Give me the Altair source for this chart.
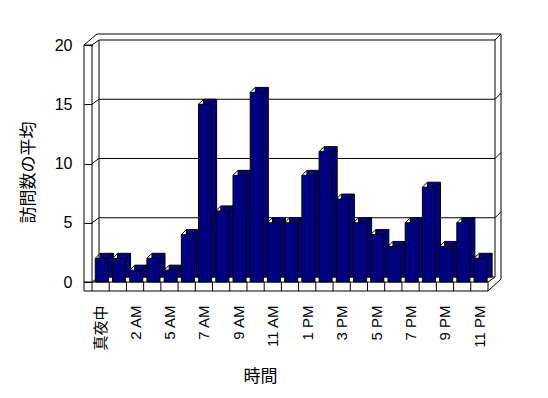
import json
import altair as alt
import pandas as pd

# ---- data ----
hours = ["真夜中", "1 AM", "2 AM", "4 AM", "5 AM", "6 AM", "7 AM", "8 AM", "9 AM",
         "10 AM", "11 AM", "12 PM", "1 PM", "2 PM", "3 PM", "4 PM", "5 PM", "6 PM",
         "7 PM", "8 PM", "9 PM", "10 PM", "11 PM"]
visits = [2, 2, 1, 2, 1, 4, 15, 6, 9, 16, 5, 5, 9, 11, 7, 5, 4, 3, 5, 8, 3, 5, 2]
y_ticks = [0, 5, 10, 15, 20]

N = len(hours)
YMAX = y_ticks[-1]
W, H = 396, 237
UX = N / W        # data units per pixel (x)
UY = YMAX / H     # data units per pixel (y)
NAVY = "#000080"
FONT = "Liberation Sans, Noto Sans CJK JP"

df = pd.DataFrame({"idx": list(range(N)), "hour": hours, "visits": visits})

# ---- 3D box frame (walls and floor) built from the scale domain ----
BI = (7, -5)    # back wall inner plane offset (px)
BO = (13, -11)  # back wall outer plane offset (px)
LW = 8          # left wall thickness (px)
FT = 9          # floor thickness (px)


def P(x, y, dx=0, dy=0):
    return (x + dx * UX, y - dy * UY)


segs = []


def S(a, b):
    segs.append({"x": a[0], "y": a[1], "x2": b[0], "y2": b[1]})


# left wall
S(P(0, YMAX, -LW, 0), P(0, 0, -LW, FT))
S(P(0, YMAX), P(0, 0))
S(P(0, YMAX, -LW, 0), P(0, YMAX))
S(P(0, YMAX, -LW, 0), P(0, YMAX, -LW + BO[0], BO[1]))
S(P(0, YMAX), P(0, YMAX, *BI))
S(P(0, YMAX, *BI), P(0, 0, *BI))
# back wall
S(P(0, YMAX, *BI), P(N, YMAX, *BI))
S(P(0, YMAX, -LW + BO[0], BO[1]), P(N, YMAX, *BO))
S(P(N, YMAX, *BI), P(N, 0, *BI))
S(P(N, YMAX, *BO), P(N, 0, BO[0], FT - 12))
S(P(N, YMAX, *BI), P(N, YMAX, *BO))
for g in y_ticks[:-1]:
    S(P(0, g, *BI), P(N, g, *BI))
    S(P(0, g), P(0, g, *BI))
    if g > 0:
        S(P(N, g, *BI), P(N, g, *BO))
# floor
S(P(0, 0, -LW, 0), P(N, 0))
S(P(0, 0, -LW, FT), P(N, 0, 0, FT))
for k in range(N + 1):
    S(P(k, 0), P(k, 0, 0, FT))
S(P(N, 0, 0, FT), P(N, 0, BO[0], FT - 12))
S(P(N, 0), P(N, 0, *BI))
seg_df = pd.DataFrame(segs)

xs = alt.Scale(domain=[0, N], nice=False, zero=False)
ys = alt.Scale(domain=[0, YMAX], nice=False, zero=False)

names = json.dumps(hours, ensure_ascii=False)
x_axis = alt.Axis(
    values=[i + 0.5 for i in range(0, N, 2)],
    labelExpr=f"{names}[floor(datum.value)]",
    labelAngle=270, labelAlign="right", labelBaseline="middle",
    labelPadding=23, labelFontSize=15, labelFont=FONT, labelColor="black",
    ticks=False, domain=False, grid=False,
    title="時間", titleFont=FONT, titleFontSize=17, titleFontWeight="normal",
    titleColor="black", titleX=168, titleY=86, titleAlign="center",
    titleBaseline="top", labelOverlap=False,
)
y_axis = alt.Axis(
    values=y_ticks, labelFontSize=16, labelFont=FONT, labelColor="black",
    labelPadding=12, tickSize=8, tickColor="black", domain=False, grid=False,
    title="訪問数の平均", titleFont=FONT, titleFontSize=17, titleFontWeight="normal",
    titleColor="black", titleAngle=270, titleX=-64, titleY=127,
    titleAlign="center", titleBaseline="middle",
)


def enc(ch):
    return ch.encode(
        x=alt.X("x:Q", scale=xs, axis=x_axis),
        x2="x2:Q",
        y=alt.Y("y:Q", scale=ys, axis=y_axis),
        y2="y2:Q",
    )


frame = enc(alt.Chart(seg_df).mark_rule(color="black", strokeWidth=1))

bars_base = alt.Chart(df).transform_calculate(
    x="datum.idx + 0.19", x2="datum.idx + 0.95", y="datum.visits", y2="0"
)
bar_back = enc(bars_base.mark_rect(
    fill=NAVY, stroke="black", strokeWidth=1,
    xOffset=5, x2Offset=5, yOffset=-5, y2Offset=-5))
bar_front = enc(bars_base.mark_rect(fill=NAVY, stroke="black", strokeWidth=1))

diag_tl = enc(alt.Chart(df).transform_calculate(
    x="datum.idx + 0.19", x2="datum.idx + 0.19", y="datum.visits", y2="datum.visits"
).mark_rule(color="black", strokeWidth=1, x2Offset=5, y2Offset=-5))
diag_tr = enc(alt.Chart(df).transform_calculate(
    x="datum.idx + 0.95", x2="datum.idx + 0.95", y="datum.visits", y2="datum.visits"
).mark_rule(color="black", strokeWidth=1, x2Offset=5, y2Offset=-5))

chart = alt.layer(frame, bar_back, bar_front, diag_tl, diag_tr).properties(
    width=W, height=H,
    autosize=alt.AutoSizeParams(type="none"),
    padding={"left": 92, "top": 45, "right": 548 - 92 - W, "bottom": 398 - 45 - H},
    background="white",
).configure_view(stroke=None)

chart.save("out.html", embed_options={"renderer": "svg", "actions": False})
